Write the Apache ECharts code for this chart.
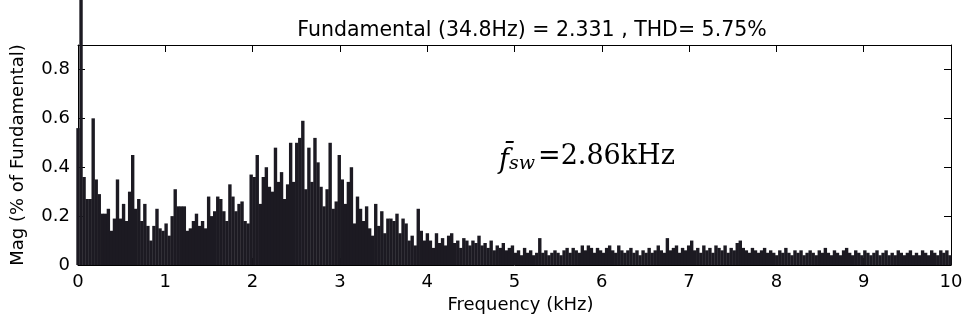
<!DOCTYPE html>
<html>
<head>
<meta charset="utf-8">
<script src="https://cdn.jsdelivr.net/npm/echarts@6/dist/echarts.min.js"></script>
<style>
html,body{margin:0;padding:0;background:#fff;}
#chart{width:967px;height:324px;}
</style>
</head>
<body>
<div id="chart"></div>
<script>
// Harmonic spacing (fundamental frequency, kHz)
const fundamentalKHz = 0.0348;
// Magnitudes (% of fundamental), harmonic order 0..287, split by band
const mag0to1k = [0.56,100,0.36,0.27,0.27,0.60,0.35,0.29,0.21,0.21,0.23,0.14,0.19,0.35,0.19,0.25,0.18,0.30,0.45,0.23,0.27,0.18,0.25,0.16,0.10,0.16,0.23,0.15,0.14,0.17];
const mag1to2k = [0.12,0.20,0.31,0.24,0.24,0.24,0.14,0.15,0.18,0.21,0.16,0.18,0.15,0.28,0.20,0.22,0.28,0.27,0.22,0.18,0.33,0.28,0.22,0.25,0.26,0.18,0.17,0.37,0.36];
const mag2to3k = [0.45,0.25,0.36,0.40,0.32,0.30,0.48,0.34,0.38,0.27,0.33,0.50,0.34,0.50,0.52,0.59,0.31,0.48,0.34,0.52,0.42,0.32,0.24,0.31,0.50,0.23,0.26,0.45,0.35,0.25];
const mag3to4k = [0.34,0.40,0.17,0.28,0.23,0.18,0.24,0.15,0.12,0.25,0.16,0.22,0.13,0.19,0.19,0.18,0.21,0.13,0.19,0.17,0.10,0.12,0.08,0.23,0.14,0.10,0.13,0.10,0.07,0.13];
const mag4to5k = [0.09,0.11,0.08,0.12,0.13,0.09,0.10,0.07,0.11,0.10,0.08,0.10,0.09,0.12,0.08,0.09,0.07,0.10,0.06,0.08,0.07,0.09,0.06,0.07,0.08];
const mag5to6k = [0.05,0.06,0.04,0.07,0.05,0.06,0.04,0.05,0.11,0.05,0.06,0.04,0.05,0.06,0.05,0.04,0.06,0.07,0.05,0.07,0.06,0.05,0.08,0.06,0.08,0.07,0.05,0.07,0.06,0.05,0.07,0.08,0.06,0.05,0.08,0.06];
const mag6to8k = [0.05,0.06,0.07,0.05,0.06,0.04,0.06,0.05,0.07,0.05,0.06,0.08,0.06,0.05,0.11,0.06,0.07,0.08,0.05,0.07,0.06,0.08,0.10,0.06,0.07,0.05,0.08,0.06,0.07,0.05,0.08,0.07,0.06,0.08,0.05,0.07,0.06,0.09,0.10,0.07,0.06,0.05,0.07,0.06,0.05,0.06,0.07,0.05];
const mag8to10k = [0.06,0.05,0.04,0.06,0.05,0.07,0.05,0.04,0.06,0.05,0.06,0.04,0.05,0.06,0.05,0.04,0.06,0.05,0.07,0.05,0.04,0.06,0.05,0.04,0.06,0.07,0.05,0.04,0.06,0.05,0.04,0.06,0.05,0.04,0.05,0.06,0.04,0.05,0.06,0.04,0.05,0.04,0.06,0.05,0.04,0.05,0.06,0.04,0.05,0.04,0.06,0.05,0.04,0.06,0.05,0.04,0.06,0.05,0.06,0.04];
// Axis ticks
const xTicks = [0,1,2,3,4,5,6,7,8,9,10];
const yTicks = [0,0.2,0.4,0.6,0.8];
const titleText = 'Fundamental (34.8Hz) = 2.331 , THD= 5.75%';

const magnitudes = [].concat(mag0to1k, mag1to2k, mag2to3k, mag3to4k, mag4to5k, mag5to6k, mag6to8k, mag8to10k);
const barData = magnitudes.map((v, k) => [k * fundamentalKHz, v]);

const font = 'DejaVu Sans';
const axisLineStyle = {color:'#000', width:1};
const chart = echarts.init(document.getElementById('chart'), null, {renderer:'canvas'});
chart.setOption({
  animation:false,
  backgroundColor:'#fff',
  title:{text:titleText, left:527, top:15, textAlign:'center',
    textStyle:{fontFamily:font, fontSize:20.5, fontWeight:'normal', color:'#000'}},
  grid:{left:78, right:16, top:45, bottom:59, containLabel:false},
  xAxis:[{
    type:'value', min:xTicks[0], max:xTicks[xTicks.length-1], interval:1, position:'bottom',
    axisLine:{show:true, onZero:false, lineStyle:axisLineStyle},
    axisTick:{show:true, inside:true, length:7, lineStyle:axisLineStyle},
    axisLabel:{fontFamily:font, fontSize:18, color:'#000', margin:8},
    splitLine:{show:false},
    name:'Frequency (kHz)', nameLocation:'middle', nameGap:29,
    nameTextStyle:{fontFamily:font, fontSize:18, color:'#000', padding:[0,0,0,12]}
  },{
    type:'value', min:xTicks[0], max:xTicks[xTicks.length-1], interval:1, position:'top',
    axisLine:{show:true, onZero:false, lineStyle:axisLineStyle},
    axisTick:{show:true, inside:true, length:7, lineStyle:axisLineStyle},
    axisLabel:{show:false}, splitLine:{show:false}
  }],
  yAxis:[{
    type:'value', min:0, max:0.9, interval:0.2, position:'left',
    axisLine:{show:true, onZero:false, lineStyle:axisLineStyle},
    axisTick:{show:true, inside:true, length:7, lineStyle:axisLineStyle},
    axisLabel:{fontFamily:font, fontSize:18, color:'#000', margin:8,
      formatter:v => yTicks.some(t => Math.abs(t-v)<1e-9) ? String(+v.toFixed(1)) : ''},
    splitLine:{show:false},
    name:'Mag (% of Fundamental)', nameLocation:'middle', nameGap:51,
    nameTextStyle:{fontFamily:font, fontSize:18, color:'#000'}
  },{
    type:'value', min:0, max:0.9, interval:0.2, position:'right',
    axisLine:{show:true, onZero:false, lineStyle:axisLineStyle},
    axisTick:{show:true, inside:true, length:7, lineStyle:axisLineStyle},
    axisLabel:{show:false}, splitLine:{show:false}
  }],
  series:[{
    type:'bar', xAxisIndex:0, yAxisIndex:0, data:barData, barWidth:3.4, clip:false,
    itemStyle:{color:'#1c1a22'}, silent:true
  }],
  graphic:[{
    type:'text', left:499, top:143,
    style:{
      text:'{f|f\u0304}{sub|sw}{eq|=2.86kHz}',
      rich:{
        f:{fontFamily:'DejaVu Serif', fontStyle:'italic', fontSize:27, fill:'#000', verticalAlign:'bottom'},
        sub:{fontFamily:'DejaVu Serif', fontStyle:'italic', fontSize:19, fill:'#000', verticalAlign:'bottom', padding:[0,3,0,0]},
        eq:{fontFamily:'DejaVu Serif', fontSize:27, fill:'#000', verticalAlign:'bottom', padding:[0,0,4,0]}
      }
    }
  }]
});
</script>
</body>
</html>
